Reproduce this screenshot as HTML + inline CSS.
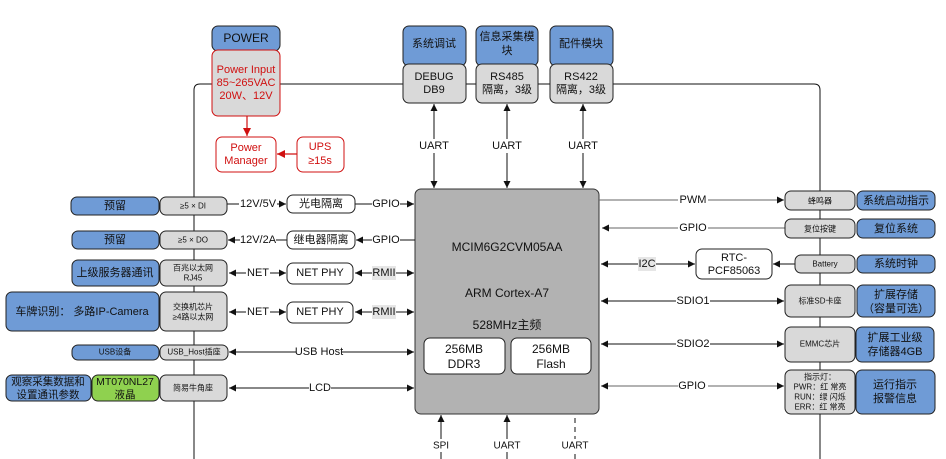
<!DOCTYPE html>
<html><head><meta charset="utf-8"><style>
html,body{margin:0;padding:0;background:#fff;width:946px;height:459px;overflow:hidden}
svg{display:block}
text{font-family:"Liberation Sans","Noto Sans CJK SC",sans-serif;fill:#111;text-anchor:middle;dominant-baseline:central}
.b{fill:#6f9bd6;stroke:#222;stroke-width:1}
.g{fill:#d9d9d9;stroke:#222;stroke-width:1}
.w{fill:#fff;stroke:#222;stroke-width:1}
.l{stroke:#111;stroke-width:1;fill:none}
.r{stroke:#d01010;stroke-width:1.2}
</style></head><body>
<svg width="946" height="459" viewBox="0 0 946 459" xmlns="http://www.w3.org/2000/svg">
<defs>
<marker id="a" viewBox="0 0 10 10" refX="10" refY="5" markerWidth="9" markerHeight="7" orient="auto-start-reverse" markerUnits="userSpaceOnUse"><path d="M0,0L10,5L0,10z" fill="#111"/></marker>
<marker id="ar" viewBox="0 0 10 10" refX="10" refY="5" markerWidth="9" markerHeight="8" orient="auto" markerUnits="userSpaceOnUse"><path d="M0,0L10,5L0,10z" fill="#d01010"/></marker>
</defs>
<!-- bus lines -->
<path class="l" d="M194,459 V90 Q194,84 200,84 H814 Q820,84 820,90 V459" stroke-width="1.2"/>

<!-- top left power -->
<rect class="b" x="212" y="26" width="68" height="25" rx="6"/>
<text x="246" y="38" font-size="12">POWER</text>
<rect class="g" x="212" y="50" width="68" height="66" rx="6" style="stroke:#d01010"/>
<text x="246" y="70" font-size="11" style="fill:#d01010">Power Input</text>
<text x="246" y="83" font-size="11" style="fill:#d01010">85~265VAC</text>
<text x="246" y="96" font-size="11" style="fill:#d01010">20W、12V</text>
<line class="r" x1="247" y1="116" x2="247" y2="136" marker-end="url(#ar)"/>
<rect class="w" x="216" y="137" width="60" height="35" rx="6" style="stroke:#d01010"/>
<text x="246" y="148" font-size="11" style="fill:#d01010">Power</text>
<text x="246" y="161" font-size="11" style="fill:#d01010">Manager</text>
<rect class="w" x="297" y="137" width="47" height="35" rx="6" style="stroke:#d01010"/>
<text x="320" y="147" font-size="11" style="fill:#d01010">UPS</text>
<text x="320" y="161" font-size="11" style="fill:#d01010">≥15s</text>
<line class="r" x1="297" y1="154" x2="277" y2="154" marker-end="url(#ar)"/>

<!-- top modules -->
<rect class="b" x="403" y="26" width="63" height="40" rx="6"/>
<text x="434" y="44" font-size="11">系统调试</text>
<rect class="g" x="403" y="64" width="63" height="39" rx="6"/>
<text x="434" y="77" font-size="11">DEBUG</text>
<text x="434" y="90" font-size="11">DB9</text>
<rect class="b" x="476" y="26" width="62" height="40" rx="6"/>
<text x="507" y="37" font-size="11">信息采集模</text>
<text x="507" y="51" font-size="11">块</text>
<rect class="g" x="476" y="64" width="62" height="39" rx="6"/>
<text x="507" y="77" font-size="11">RS485</text>
<text x="507" y="90" font-size="11">隔离，3级</text>
<rect class="b" x="550" y="26" width="63" height="40" rx="6"/>
<text x="581" y="44" font-size="11">配件模块</text>
<rect class="g" x="550" y="64" width="63" height="39" rx="6"/>
<text x="581" y="77" font-size="11">RS422</text>
<text x="581" y="90" font-size="11">隔离，3级</text>
<g class="l">
<line x1="434" y1="104" x2="434" y2="188" marker-start="url(#a)" marker-end="url(#a)"/>
<line x1="507" y1="104" x2="507" y2="188" marker-start="url(#a)" marker-end="url(#a)"/>
<line x1="583" y1="104" x2="583" y2="188" marker-start="url(#a)" marker-end="url(#a)"/>
</g>
<rect x="418" y="139" width="32" height="14" fill="#fff"/><text x="434" y="146" font-size="11">UART</text>
<rect x="491" y="139" width="32" height="14" fill="#fff"/><text x="507" y="146" font-size="11">UART</text>
<rect x="567" y="139" width="32" height="14" fill="#fff"/><text x="583" y="146" font-size="11">UART</text>

<!-- chip -->
<rect x="415" y="189" width="184" height="225" rx="6" fill="#b2b2b2" stroke="#333"/>
<text x="507" y="247" font-size="12">MCIM6G2CVM05AA</text>
<text x="507" y="293" font-size="12">ARM Cortex-A7</text>
<text x="507" y="325" font-size="12">528MHz主频</text>
<rect class="w" x="424" y="338" width="81" height="36" rx="6"/>
<text x="464" y="349" font-size="12">256MB</text>
<text x="464" y="364" font-size="12">DDR3</text>
<rect class="w" x="511" y="338" width="80" height="36" rx="6"/>
<text x="551" y="349" font-size="12">256MB</text>
<text x="551" y="364" font-size="12">Flash</text>
<g class="l">
<line x1="441" y1="459" x2="441" y2="415" marker-end="url(#a)"/>
<line x1="507" y1="459" x2="507" y2="415" marker-end="url(#a)"/>
<line x1="575" y1="459" x2="575" y2="415" stroke-dasharray="5,4"/>
</g>
<rect x="430" y="439" width="22" height="13" fill="#fff"/><text x="441" y="446" font-size="10">SPI</text>
<rect x="491" y="439" width="32" height="13" fill="#fff"/><text x="507" y="446" font-size="10">UART</text>
<rect x="559" y="439" width="32" height="13" fill="#fff"/><text x="575" y="446" font-size="10">UART</text>

<!-- left side -->
<g class="l">
<line x1="227" y1="204" x2="286" y2="204" marker-end="url(#a)"/>
<line x1="355" y1="204" x2="414" y2="204" marker-end="url(#a)"/>
<line x1="287" y1="240" x2="228" y2="240" marker-end="url(#a)"/>
<line x1="415" y1="240" x2="356" y2="240" marker-end="url(#a)"/>
<line x1="229" y1="273" x2="286" y2="273" marker-start="url(#a)" marker-end="url(#a)"/>
<line x1="355" y1="273" x2="414" y2="273" marker-start="url(#a)" marker-end="url(#a)"/>
<line x1="229" y1="312" x2="286" y2="312" marker-start="url(#a)" marker-end="url(#a)"/>
<line x1="355" y1="312" x2="414" y2="312" marker-start="url(#a)" marker-end="url(#a)"/>
<line x1="229" y1="352" x2="414" y2="352" marker-start="url(#a)" marker-end="url(#a)"/>
<line x1="229" y1="388" x2="414" y2="388" marker-start="url(#a)" marker-end="url(#a)"/>
</g>
<g font-size="11">
<rect x="239" y="197" width="38" height="14" fill="#fff"/><text x="258" y="204">12V/5V</text>
<rect x="372" y="197" width="28" height="14" fill="#fff"/><text x="386" y="204">GPIO</text>
<rect x="240" y="233" width="36" height="14" fill="#fff"/><text x="258" y="240">12V/2A</text>
<rect x="372" y="233" width="28" height="14" fill="#fff"/><text x="386" y="240">GPIO</text>
<rect x="246" y="266" width="24" height="14" fill="#fff"/><text x="258" y="273">NET</text>
<rect x="372" y="266" width="24" height="14" fill="#e6e6e6"/><text x="384" y="273">RMII</text>
<rect x="246" y="305" width="24" height="14" fill="#fff"/><text x="258" y="312">NET</text>
<rect x="372" y="305" width="24" height="14" fill="#e6e6e6"/><text x="384" y="312">RMII</text>
<rect x="296" y="345" width="46" height="14" fill="#fff"/><text x="319" y="352">USB Host</text>
<rect x="309" y="381" width="22" height="14" fill="#fff"/><text x="320" y="388">LCD</text>
</g>
<rect class="w" x="287" y="195" width="68" height="18" rx="6"/><text x="321" y="204" font-size="11">光电隔离</text>
<rect class="w" x="287" y="231" width="68" height="18" rx="6"/><text x="321" y="240" font-size="11">继电器隔离</text>
<rect class="w" x="287" y="263" width="66" height="21" rx="6"/><text x="320" y="273" font-size="11">NET PHY</text>
<rect class="w" x="287" y="302" width="66" height="21" rx="6"/><text x="320" y="312" font-size="11">NET PHY</text>

<rect class="b" x="71" y="197" width="88" height="18" rx="6"/><text x="115" y="206" font-size="11">预留</text>
<rect class="g" x="160" y="197" width="67" height="18" rx="6"/><text x="193" y="206" font-size="8">≥5 × DI</text>
<rect class="b" x="72" y="231" width="87" height="18" rx="6"/><text x="115" y="240" font-size="11">预留</text>
<rect class="g" x="160" y="231" width="67" height="18" rx="6"/><text x="193" y="240" font-size="8">≥5 × DO</text>
<rect class="b" x="72" y="260" width="87" height="26" rx="6"/><text x="115" y="273" font-size="11">上级服务器通讯</text>
<rect class="g" x="160" y="260" width="67" height="26" rx="6"/><text x="193" y="268" font-size="8">百兆以太网</text><text x="193" y="278" font-size="8">RJ45</text>
<rect class="b" x="6" y="292" width="153" height="39" rx="6"/><text x="82" y="312" font-size="11">车牌识别：  多路IP-Camera</text>
<rect class="g" x="160" y="292" width="67" height="39" rx="6"/><text x="193" y="307" font-size="8">交换机芯片</text><text x="193" y="317" font-size="8">≥4路以太网</text>
<rect class="b" x="72" y="345" width="87" height="15" rx="6"/><text x="115" y="352" font-size="8">USB设备</text>
<rect class="g" x="160" y="345" width="68" height="15" rx="6"/><text x="194" y="352" font-size="8">USB_Host插座</text>
<rect class="b" x="6" y="375" width="85" height="26" rx="6"/><text x="48" y="382" font-size="10.5">观察采集数据和</text><text x="48" y="395" font-size="10.5">设置通讯参数</text>
<rect x="92" y="375" width="67" height="26" rx="6" fill="#8fd14f" stroke="#222"/><text x="125" y="382" font-size="10.5">MT070NL27</text><text x="125" y="395" font-size="10.5">液晶</text>
<rect class="g" x="160" y="375" width="67" height="26" rx="6"/><text x="193" y="388" font-size="8">简易牛角座</text>

<!-- right side -->
<g class="l">
<line x1="599" y1="200" x2="784" y2="200" stroke="#666" marker-end="url(#a)"/>
<line x1="785" y1="228" x2="602" y2="228" stroke="#666" marker-end="url(#a)"/>
<line x1="601" y1="264" x2="695" y2="264" marker-start="url(#a)" marker-end="url(#a)"/>
<line x1="795" y1="264" x2="773" y2="264" marker-end="url(#a)"/>
<line x1="601" y1="301" x2="784" y2="301" marker-start="url(#a)" marker-end="url(#a)"/>
<line x1="601" y1="344" x2="784" y2="344" marker-start="url(#a)" marker-end="url(#a)"/>
<line x1="601" y1="386" x2="784" y2="386" stroke="#666" marker-start="url(#a)" marker-end="url(#a)"/>
</g>
<g font-size="11">
<rect x="678" y="193" width="30" height="14" fill="#fff"/><text x="693" y="200">PWM</text>
<rect x="678" y="221" width="30" height="14" fill="#fff"/><text x="693" y="228">GPIO</text>
<rect x="638" y="257" width="18" height="14" fill="#e6e6e6"/><text x="647" y="264">I2C</text>
<rect x="676" y="294" width="34" height="14" fill="#fff"/><text x="693" y="301">SDIO1</text>
<rect x="676" y="337" width="34" height="14" fill="#fff"/><text x="693" y="344">SDIO2</text>
<rect x="678" y="379" width="30" height="14" fill="#fff"/><text x="692" y="386">GPIO</text>
</g>
<rect class="w" x="696" y="249" width="76" height="30" rx="6"/><text x="734" y="258" font-size="11">RTC-</text><text x="734" y="271" font-size="11">PCF85063</text>

<rect class="g" x="785" y="191" width="70" height="19" rx="6"/><text x="820" y="201" font-size="8">蜂鸣器</text>
<rect class="b" x="857" y="191" width="78" height="19" rx="6"/><text x="896" y="201" font-size="11">系统启动指示</text>
<rect class="g" x="785" y="219" width="70" height="19" rx="6"/><text x="820" y="229" font-size="8">复位按键</text>
<rect class="b" x="857" y="219" width="78" height="19" rx="6"/><text x="896" y="229" font-size="11">复位系统</text>
<rect class="g" x="795" y="255" width="60" height="18" rx="6"/><text x="825" y="264" font-size="8">Battery</text>
<rect class="b" x="857" y="255" width="78" height="18" rx="6"/><text x="896" y="264" font-size="11">系统时钟</text>
<rect class="g" x="785" y="285" width="70" height="32" rx="6"/><text x="820" y="301" font-size="8">标准SD卡座</text>
<rect class="b" x="857" y="285" width="78" height="32" rx="6"/><text x="896" y="295" font-size="11">扩展存储</text><text x="896" y="309" font-size="11">（容量可选）</text>
<rect class="g" x="785" y="327" width="70" height="35" rx="6"/><text x="820" y="344" font-size="8">EMMC芯片</text>
<rect class="b" x="856" y="327" width="78" height="35" rx="6"/><text x="895" y="338" font-size="11">扩展工业级</text><text x="895" y="352" font-size="11">存储器4GB</text>
<rect class="g" x="785" y="370" width="70" height="44" rx="6"/>
<text x="820" y="377" font-size="8">指示灯：</text>
<text x="820" y="387" font-size="8">PWR：红 常亮</text>
<text x="820" y="397" font-size="8">RUN：绿 闪烁</text>
<text x="820" y="407" font-size="8">ERR：红 常亮</text>
<rect class="b" x="856" y="370" width="79" height="44" rx="6"/><text x="895" y="385" font-size="11">运行指示</text><text x="895" y="399" font-size="11">报警信息</text>
</svg>
</body></html>
